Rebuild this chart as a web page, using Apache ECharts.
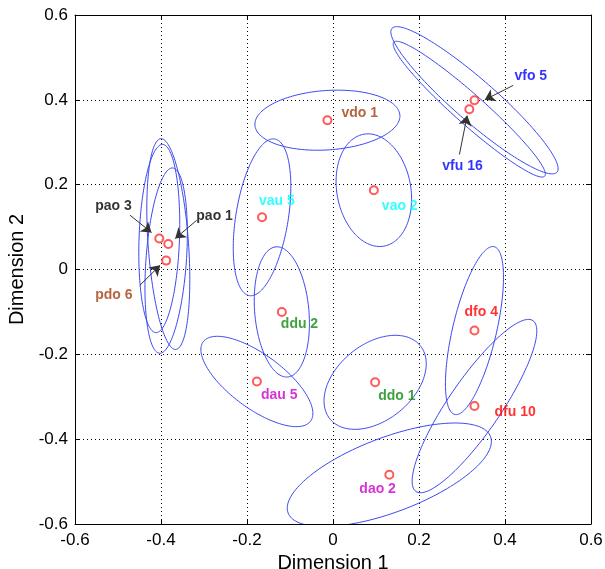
<!DOCTYPE html>
<html>
<head>
<meta charset="utf-8">
<script src="https://cdn.jsdelivr.net/npm/echarts@6/dist/echarts.min.js"></script>
<style>
  html, body { margin: 0; padding: 0; background: #fff; }
  #chart { width: 605px; height: 569px; }
</style>
</head>
<body>
<div id="chart"></div>
<script>
  // stimulus labels and their positions on the two dimensions
  var names = ['pao 3', 'pao 1', 'pdo 6', 'vau 5', 'vdo 1', 'vao 2', 'vfo 5', 'vfu 16',
               'ddu 2', 'dau 5', 'ddo 1', 'dfo 4', 'dfu 10', 'dao 2']
  var dim1 = [-0.404, -0.383, -0.388, -0.165, -0.013, 0.095, 0.329, 0.317,
              -0.119, -0.177, 0.098, 0.329, 0.329, 0.131]
  var dim2 = [0.073, 0.060, 0.021, 0.123, 0.352, 0.187, 0.399, 0.378,
              -0.100, -0.264, -0.266, -0.144, -0.322, -0.484]
  // confidence ellipses: semi axes and tilt (degrees)
  var ellMajor = [0.222, 0.249, 0.219, 0.187, 0.169, 0.134, 0.256, 0.236,
                  0.154, 0.156, 0.136, 0.203, 0.243, 0.252]
  var ellMinor = [0.047, 0.047, 0.047, 0.061, 0.070, 0.086, 0.049, 0.035,
                  0.063, 0.063, 0.089, 0.051, 0.061, 0.088]
  var ellAngle = [88, 94, 86, 81, 4, 100, -41.5, -42, 95, -37, 40, 77, 56, 21]
  // arrows: [fromX, fromY, toX, toY]
  var arrows = [
    [-0.472, 0.128, -0.422, 0.087],
    [-0.317, 0.116, -0.367, 0.073],
    [-0.449, -0.037, -0.402, 0.010],
    [0.419, 0.434, 0.353, 0.400],
    [0.294, 0.271, 0.312, 0.363]
  ]

  var labelColors = ['#000', '#000', '#a0400f', '#00ffff', '#a0400f', '#00ffff', '#0000ff', '#0000ff',
                     '#108a10', '#cc00cc', '#108a10', '#ff0000', '#ff0000', '#cc00cc']
  var labelOffsets = [[-64, -32], [28, -28], [-71, 35], [-3, -16], [14, -7], [8, 16], [40, -24], [-27, 57],
                      [-1, 12], [4, 14], [3, 14], [-10, -18], [20, 6], [-30, 14]]

  var myChart = echarts.init(document.getElementById('chart'))

  var fmt = function (v) {
    var s = (+v).toFixed(1)
    return s === '0.0' || s === '-0.0' ? '0' : s
  }

  function axisBase() {
    return {
      type: 'value',
      min: -0.6,
      max: 0.6,
      interval: 0.2,
      axisLine: { show: true, onZero: false, lineStyle: { color: '#000', width: 1 } },
      axisTick: { show: true, inside: true, length: 5, lineStyle: { color: '#000', width: 1 } }
    }
  }

  var ellipseData = names.map(function (n, i) {
    return [dim1[i], dim2[i], ellMajor[i], ellMinor[i], ellAngle[i]]
  })

  var pointData = names.map(function (n, i) {
    return {
      name: n,
      value: [dim1[i], dim2[i]],
      label: { color: labelColors[i], offset: labelOffsets[i] }
    }
  })

  var option = {
    backgroundColor: '#fff',
    animation: false,
    grid: { left: 75, right: 14, top: 15, bottom: 45, outerBoundsMode: 'none' },
    xAxis: [
      Object.assign(axisBase(), {
        position: 'bottom',
        name: 'Dimension 1',
        nameLocation: 'middle',
        nameGap: 24,
        nameTextStyle: { fontFamily: 'Liberation Sans', fontSize: 20, color: '#000' },
        axisLabel: { formatter: fmt, margin: 8, color: '#000', fontFamily: 'Liberation Sans', fontSize: 17 },
        splitLine: { show: true, showMinLine: false, showMaxLine: false, lineStyle: { color: '#000', type: [1, 3], width: 1 } }
      }),
      Object.assign(axisBase(), {
        position: 'top',
        axisLabel: { show: false },
        splitLine: { show: false }
      })
    ],
    yAxis: [
      Object.assign(axisBase(), {
        position: 'left',
        name: 'Dimension 2',
        nameLocation: 'middle',
        nameGap: 37,
        nameRotate: 90,
        nameTextStyle: { fontFamily: 'Liberation Sans', fontSize: 20, color: '#000' },
        axisLabel: { formatter: fmt, margin: 7, color: '#000', fontFamily: 'Liberation Sans', fontSize: 17 },
        splitLine: { show: true, showMinLine: false, showMaxLine: false, lineStyle: { color: '#000', type: [1, 3], width: 1 } }
      }),
      Object.assign(axisBase(), {
        position: 'right',
        axisLabel: { show: false },
        splitLine: { show: false }
      })
    ],
    series: [
      {
        // ellipses
        type: 'custom',
        clip: true,
        silent: true,
        data: ellipseData,
        renderItem: function (params, api) {
          var cx = api.value(0), cy = api.value(1)
          var a = api.value(2), b = api.value(3)
          var ang = api.value(4) * Math.PI / 180
          var pts = []
          for (var k = 0; k <= 160; k++) {
            var t = k / 160 * 2 * Math.PI
            var u = a * Math.cos(t), v = b * Math.sin(t)
            pts.push(api.coord([cx + u * Math.cos(ang) - v * Math.sin(ang),
                                cy + u * Math.sin(ang) + v * Math.cos(ang)]))
          }
          return {
            type: 'polyline',
            shape: { points: pts },
            style: { stroke: '#3a48f0', lineWidth: 1, fill: null }
          }
        },
        z: 2
      },
      {
        // arrows
        type: 'lines',
        coordinateSystem: 'cartesian2d',
        silent: true,
        symbol: ['none', 'arrow'],
        symbolSize: 10,
        lineStyle: { color: '#333', width: 1, opacity: 1 },
        data: arrows.map(function (d) {
          return { coords: [[d[0], d[1]], [d[2], d[3]]] }
        }),
        z: 3
      },
      {
        type: 'scatter',
        symbol: 'emptyCircle',
        symbolSize: 8,
        itemStyle: { color: '#ff3030', borderColor: '#ff3030', borderWidth: 0.8 },
        label: {
          show: true,
          position: 'inside',
          align: 'left',
          verticalAlign: 'middle',
          formatter: '{b}',
          fontFamily: 'Liberation Sans',
          fontWeight: 'bold',
          fontSize: 14
        },
        data: pointData,
        z: 4
      }
    ]
  }

  myChart.setOption(option)
</script>
</body>
</html>
